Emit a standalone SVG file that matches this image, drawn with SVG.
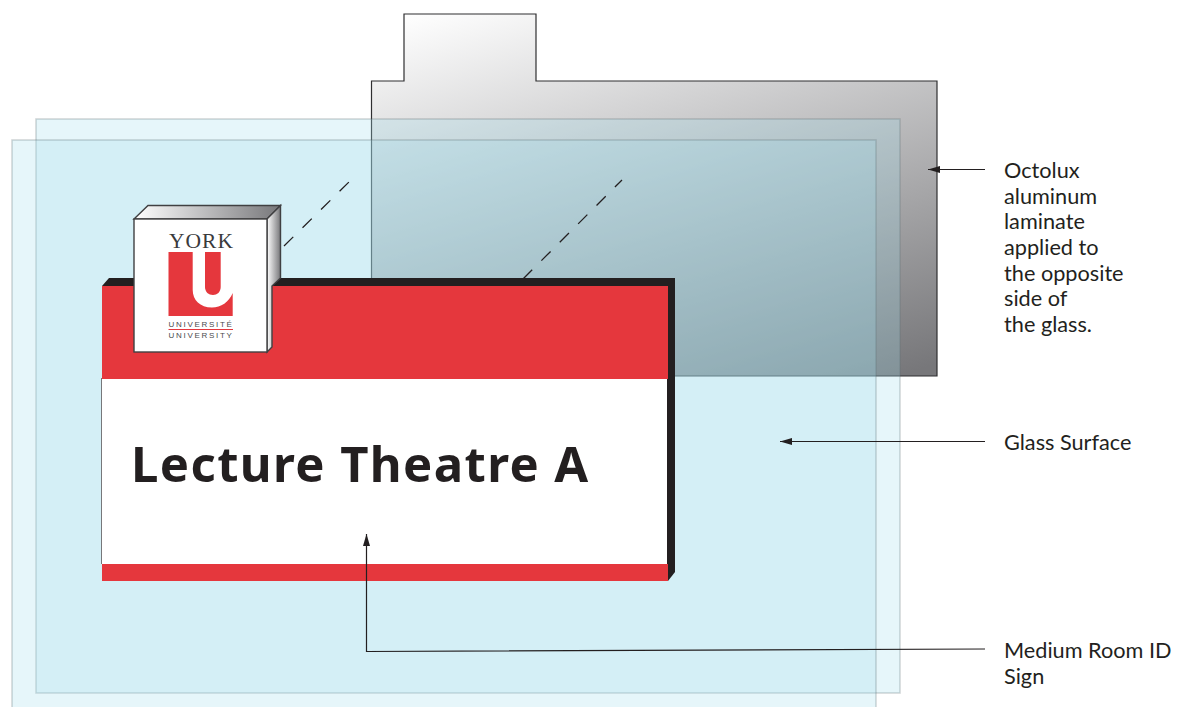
<svg xmlns="http://www.w3.org/2000/svg" width="1182" height="707" viewBox="0 0 1182 707">
<style>
.glass{fill:#a3deee;fill-opacity:.27;stroke:#5f6f72;stroke-opacity:.28;stroke-width:1.6}
.label{font-family:"Lato","Noto Sans",sans-serif;font-size:21.700px;fill:#231f20}
.lead{fill:none;stroke:#231f20;stroke-width:1.200}
.dash{fill:none;stroke:#231f20;stroke-width:1.300;stroke-dasharray:13 13}
.edge{stroke:#404042;stroke-width:1.4;stroke-linejoin:miter}
.red{fill:#e5373d}
.small{font-family:"Liberation Sans",sans-serif;font-size:8px;fill:#4a4a4c;letter-spacing:1.700px}
</style>
<defs>
<linearGradient id="lam" gradientUnits="userSpaceOnUse" x1="404" y1="14" x2="545" y2="482">
<stop offset="0" stop-color="#ffffff"/><stop offset="1" stop-color="#77777a"/>
</linearGradient>
<linearGradient id="top" x1="0" y1="0" x2="1" y2="0">
<stop offset="0" stop-color="#ffffff"/><stop offset="1" stop-color="#77777a"/>
</linearGradient>
<linearGradient id="side" x1="0" y1="0" x2="1" y2="0">
<stop offset="0" stop-color="#ffffff"/><stop offset="1" stop-color="#77777a"/>
</linearGradient>
<marker id="arr" markerUnits="userSpaceOnUse" markerWidth="14" markerHeight="9" refX="12" refY="4.500" orient="auto">
<path d="M0,1 L12,4.500 L0,8 Z" fill="#231f20"/>
</marker>
</defs>
<rect width="1182" height="707" fill="#ffffff"/>
<g id="laminate">
<path d="M371.500,81 H404 V14 H536 V81 H937 V376 H371.500 Z" fill="url(#lam)" stroke="#2f2f31" stroke-width="1.200"/>
</g>
<g id="glass-back"><rect class="glass" x="36" y="119" width="864" height="574"/></g>
<g id="glass-front"><rect class="glass" x="12" y="140" width="864" height="580"/></g>
<g id="dashes">
<path class="dash" d="M284,246 L351,180"/>
<path class="dash" d="M523,279 L622,180"/>
</g>
<g id="sign">
<path d="M102,286 L109,278 H675 V572 L668,581 H102 Z" fill="#231f20"/>
<rect class="red" x="102" y="286" width="566" height="93"/>
<rect x="102" y="379" width="565" height="185" fill="#ffffff"/>
<rect class="red" x="102" y="564" width="566" height="17"/>
<path d="M101.500,378 V564" stroke="#77777a" stroke-width="1" fill="none"/>
<text x="131" y="482" font-family="'Noto Sans','Open Sans',sans-serif" font-weight="700" font-size="49" letter-spacing="1.400" fill="#231f20">Lecture Theatre A</text>
</g>
<g id="logo-block">
<path class="edge" d="M134,219 L148,205.500 H280.500 L267,219 Z" fill="url(#top)"/>
<path class="edge" d="M267,219 L280.500,205.500 V278 L272,286 V347 L267,352 Z" fill="url(#side)"/>
<rect class="edge" x="134" y="219" width="133" height="133" fill="#ffffff"/>
<text x="169" y="247.500" font-family="'Liberation Serif',serif" font-size="21.500" letter-spacing="1" fill="#3a3a3c">YORK</text>
<path class="red" d="M168.500,252 H192.700 V290 C192.700,300 200,307.500 212,307.500 C221,307.500 229,302 232.700,293 V316 H168.500 Z"/>
<path class="red" d="M205,252 H220.700 V287 C220.700,292 217,295 213,295 C208.500,295 205,292 205,287 Z"/>
<text class="small" x="168.500" y="326.700">UNIVERSITÉ</text>
<rect class="red" x="168.500" y="329" width="64.500" height="1"/>
<text class="small" x="168.500" y="337.700">UNIVERSITY</text>
</g>
<g id="connectors">
<path class="lead" d="M985,169.500 H928" marker-end="url(#arr)"/>
<path class="lead" d="M985,441.500 H780" marker-end="url(#arr)"/>
<path class="lead" d="M985,649 L366.500,651.500 V534" marker-end="url(#arr)"/>
</g>
<g id="labels">
<text class="label" x="1004" y="178">Octolux</text>
<text class="label" x="1004" y="204">aluminum</text>
<text class="label" x="1004" y="229">laminate</text>
<text class="label" x="1004" y="255">applied to</text>
<text class="label" x="1004" y="281">the opposite</text>
<text class="label" x="1004" y="306">side of</text>
<text class="label" x="1004" y="332">the glass.</text>
<text class="label" x="1004" y="450">Glass Surface</text>
<text class="label" x="1004" y="658">Medium Room ID</text>
<text class="label" x="1004" y="684">Sign</text>
</g>
</svg>
